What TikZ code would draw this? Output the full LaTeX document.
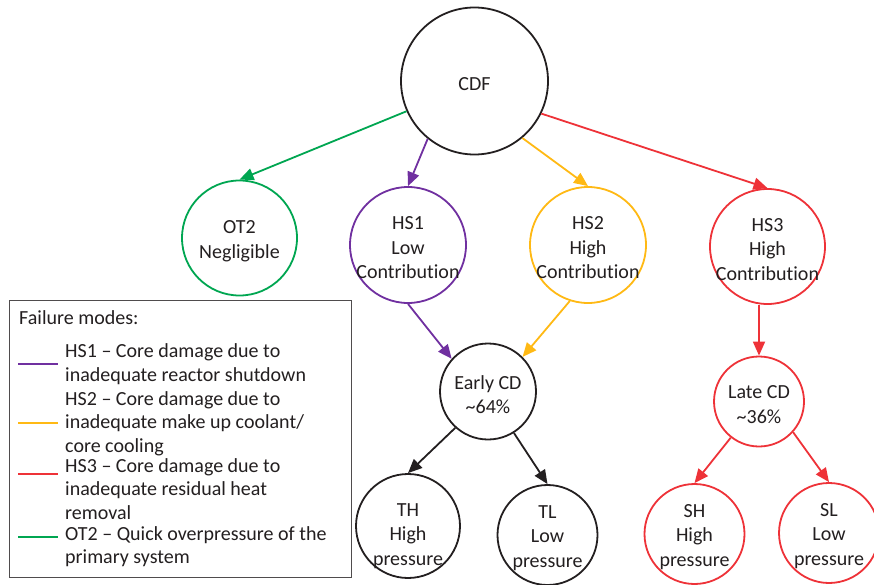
\documentclass[tikz,border=0pt]{standalone}
\usepackage{fontspec}
\setmainfont{Carlito}[Ligatures=NoCommon]
\usetikzlibrary{arrows.meta}
\definecolor{cgreen}{RGB}{0,166,81}
\definecolor{cpurple}{RGB}{112,48,160}
\definecolor{cyellow}{RGB}{255,185,20}
\definecolor{cred}{RGB}{238,50,56}
\definecolor{ctext}{RGB}{35,31,32}
\tikzset{
  circ/.style={circle, draw=#1, line width=1.8pt, inner sep=0pt, fill=white},
  lbl/.style={align=center, text=ctext, inner sep=0pt, yshift=-3pt, font=\fontsize{20}{24.5}\selectfont},
  conn/.style={draw=#1, line width=1.8pt, -{Triangle[length=14pt,width=12pt]}},
  legline/.style={draw=#1, line width=2.6pt},
  legtxt/.style={anchor=base west, inner sep=0pt, text=ctext, font=\fontsize{20}{24}\selectfont}
}
\begin{document}
\begin{tikzpicture}[x=1pt,y=-1pt]
\useasboundingbox (0,0) rectangle (874,585);
% circles
\node[circ=ctext, minimum size=147pt, label={[lbl]center:CDF}] (cdf) at (474.5,81) {};
\node[circ=cgreen, minimum size=115pt, label={[lbl]center:OT2\\Negligible}] (ot2) at (239.5,238) {};
\node[circ=cpurple, minimum size=116pt, label={[lbl]center:HS1\\Low\\Contribution}] (hs1) at (408,245) {};
\node[circ=cyellow, minimum size=116pt, label={[lbl]center:HS2\\High\\Contribution}] (hs2) at (588,245) {};
\node[circ=cred, minimum size=115pt, label={[lbl]center:HS3\\High\\Contribution}] (hs3) at (767.5,246.5) {};
\node[circ=ctext, minimum size=96pt, label={[lbl]center:Early CD\\\textasciitilde 64\%}] (early) at (488,391.5) {};
\node[circ=cred, minimum size=90pt, label={[lbl]center:Late CD\\\textasciitilde 36\%}] (late) at (759,401.5) {};
\node[circ=ctext, minimum size=104pt, label={[lbl,yshift=-7pt]center:TH\\High\\pressure}] (th) at (408,526) {};
\node[circ=ctext, minimum size=100pt, label={[lbl]center:TL\\Low\\pressure}] (tl) at (547.5,535) {};
\node[circ=cred, minimum size=100pt, label={[lbl]center:SH\\High\\pressure}] (sh) at (694.5,534) {};
\node[circ=cred, minimum size=100pt, label={[lbl]center:SL\\Low\\pressure}] (sl) at (829,533) {};
% connectors
\draw[conn=cgreen] (cdf.204) -- (ot2.north);
\draw[conn=cpurple] (cdf.231) -- (hs1.north);
\draw[conn=cyellow] (cdf.310) -- (hs2.north);
\draw[conn=cred] (cdf.334) -- (hs3.north);
\draw[conn=cpurple] (hs1.south) -- (early.138);
\draw[conn=cyellow] (hs2.252) -- (early.45);
\coordinate (hs3b) at (hs3.south -| late.north);
\draw[conn=cred] (hs3b) -- (late.north);
\draw[conn=ctext] (early.228) -- (th.north);
\draw[conn=ctext] (early.302) -- (tl.north);
\draw[conn=cred] (late.232) -- (sh.north);
\draw[conn=cred] (late.318) -- (sl.north);
% legend
\node[draw=ctext!80, line width=1.1pt, fill=white, minimum width=342pt, minimum height=277pt, anchor=north west, inner sep=0pt] (legend) at (9,300) {};
\node[legtxt] (lt0) at (19,324) {Failure modes:};
\coordinate (p1) at (18,364); \coordinate (p1e) at (58,364);
\coordinate (p2) at (18,423); \coordinate (p2e) at (58,423);
\coordinate (p3) at (18,474); \coordinate (p3e) at (58,474);
\coordinate (p4) at (18,537); \coordinate (p4e) at (58,537);
\draw[legline=cpurple] (p1) -- (p1e);
\draw[legline=cyellow] (p2) -- (p2e);
\draw[legline=cred] (p3) -- (p3e);
\draw[legline=cgreen] (p4) -- (p4e);
\node[legtxt] (l1a) at (65,357) {HS1 – Core damage due to};
\node[legtxt] (l1b) at (65,381) {inadequate reactor shutdown};
\node[legtxt] (l2a) at (65,405) {HS2 – Core damage due to};
\node[legtxt] (l2b) at (65,428.5) {inadequate make up coolant/};
\node[legtxt] (l2c) at (65,452) {core cooling};
\node[legtxt] (l3a) at (65,472) {HS3 – Core damage due to};
\node[legtxt] (l3b) at (65,495.5) {inadequate residual heat};
\node[legtxt] (l3c) at (65,519.5) {removal};
\node[legtxt] (l4a) at (65,540) {OT2 – Quick overpressure of the};
\node[legtxt] (l4b) at (65,563) {primary system};
\end{tikzpicture}
\end{document}
